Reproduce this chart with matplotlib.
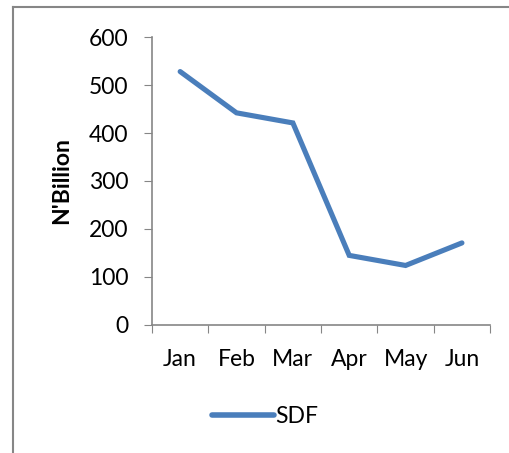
import matplotlib.pyplot as plt
from matplotlib.lines import Line2D

# data
months = ['Jan', 'Feb', 'Mar', 'Apr', 'May', 'Jun']
sdf = [528, 442, 421, 145, 124, 171]
yticks = [0, 100, 200, 300, 400, 500, 600]

plt.rcParams['font.family'] = ['Lato', 'DejaVu Sans']
FS = 16.5

fig = plt.figure(figsize=(5.1, 4.53), dpi=100)
ax = fig.add_axes([0.298, 0.2826, 0.663, 0.6357])

x = list(range(len(months)))
ax.plot(x, sdf, color='#4A7EBB', lw=3.7, solid_capstyle='round',
        solid_joinstyle='miter', label='SDF')

ax.set_xlim(-0.5, len(months) - 0.5)
ax.set_ylim(0, 600)
ax.set_yticks(yticks)
ax.set_yticklabels([str(v) for v in yticks], fontsize=FS)

# tick marks between categories, labels at the centres
ax.set_xticks([i - 0.5 for i in range(len(months) + 1)])
ax.set_xticklabels([])
ax.set_xticks(x, minor=True)
ax.set_xticklabels(months, minor=True, fontsize=FS)
ax.tick_params(axis='x', which='minor', length=0, pad=17)
ax.tick_params(axis='x', which='major', length=6, color='#868686')
ax.tick_params(axis='y', length=6, color='#868686', pad=11)

for s in ['top', 'right']:
    ax.spines[s].set_visible(False)
for s in ['left', 'bottom']:
    ax.spines[s].set_color('#868686')
    ax.spines[s].set_linewidth(1.2)

ax.set_ylabel("N'Billion", fontsize=FS, fontweight='bold', labelpad=12)

# legend
fig.legend(handles=[Line2D([0], [0], color='#4A7EBB', lw=4, solid_capstyle='round')],
           labels=['SDF'], loc='center', bbox_to_anchor=(0.52, 0.081),
           frameon=False, fontsize=FS, handlelength=2.7, handletextpad=0.05)

# chart frame (cropped)
fig.add_artist(Line2D([0.026, 0.026], [0.0, 0.985], transform=fig.transFigure,
                      color='#868686', lw=1.5))
fig.add_artist(Line2D([0.026, 1.0], [0.985, 0.985], transform=fig.transFigure,
                      color='#868686', lw=1.5))

plt.savefig('out.png', dpi=100)
